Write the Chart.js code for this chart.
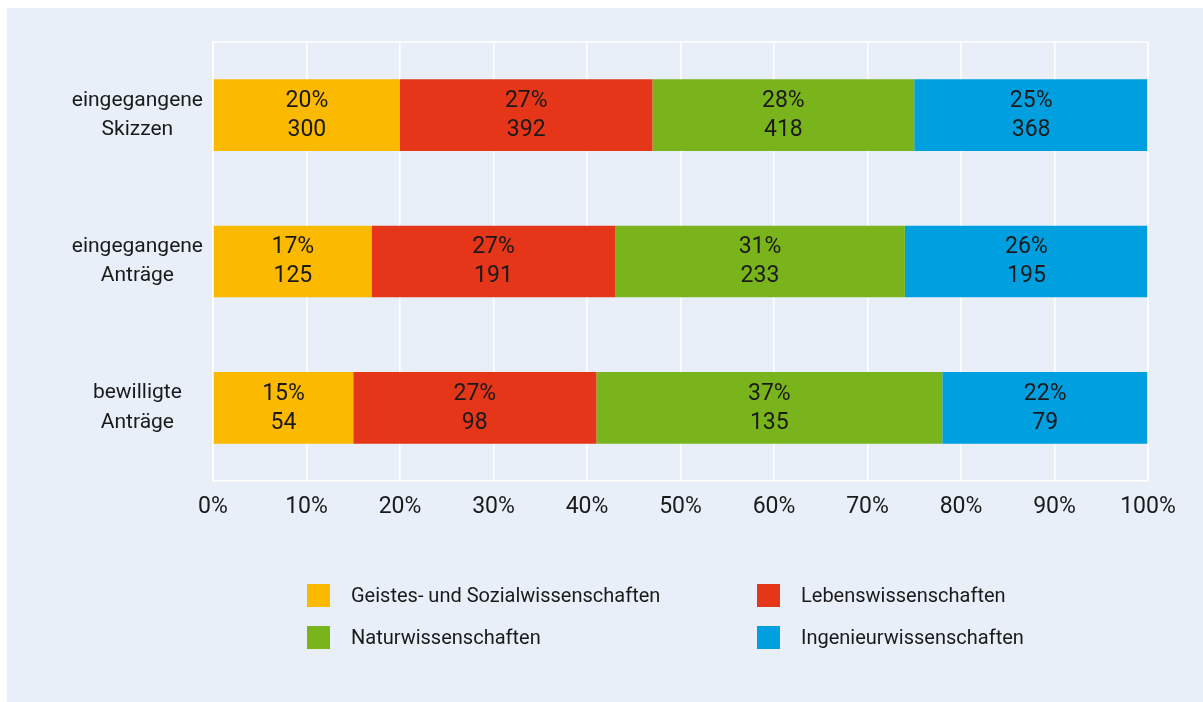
<!DOCTYPE html>
<html>
<head>
<meta charset="utf-8">
<script src="https://cdn.jsdelivr.net/npm/chart.js@4/dist/chart.umd.min.js"></script>
<style>
  html, body { margin: 0; padding: 0; background: #fff; }
  #wrap { width: 1203px; height: 702px; }
</style>
</head>
<body>
<div id="wrap"><canvas id="chart" width="1203" height="702"></canvas></div>
<script>
const categories = [['eingegangene', 'Skizzen'], ['eingegangene', 'Anträge'], ['bewilligte', 'Anträge']];
const seriesNames = ['Geistes- und Sozialwissenschaften', 'Lebenswissenschaften', 'Naturwissenschaften', 'Ingenieurwissenschaften'];
const seriesColors = ['#fbb900', '#e5361a', '#7ab41d', '#009fe0'];

// bar lengths (percent of row)
const shareGeistes = [20, 17, 15];
const shareLeben = [27, 26, 26];
const shareNatur = [28, 31, 37];
const shareIngenieur = [25, 26, 22];

// printed percentages
const pctGeistes = ['20%', '17%', '15%'];
const pctLeben = ['27%', '27%', '27%'];
const pctNatur = ['28%', '31%', '37%'];
const pctIngenieur = ['25%', '26%', '22%'];

// printed counts
const countGeistes = [300, 125, 54];
const countLeben = [392, 191, 98];
const countNatur = [418, 233, 135];
const countIngenieur = [368, 195, 79];

const xTickValues = [0, 10, 20, 30, 40, 50, 60, 70, 80, 90, 100];

const shares = [shareGeistes, shareLeben, shareNatur, shareIngenieur];
const pcts = [pctGeistes, pctLeben, pctNatur, pctIngenieur];
const counts = [countGeistes, countLeben, countNatur, countIngenieur];

const FONT = 'Roboto, "Open Sans", sans-serif';
const TEXT = '#1a1a1a';

const background = {
  id: 'background',
  beforeDraw(chart) {
    const c = chart.ctx;
    c.save();
    c.fillStyle = '#ffffff';
    c.fillRect(0, 0, chart.width, chart.height);
    c.fillStyle = '#e8eff8';
    c.fillRect(7, 8, chart.width - 7, chart.height - 8);
    c.restore();
  },
  afterDraw(chart) {
    const a = chart.chartArea;
    const c = chart.ctx;
    c.save();
    c.strokeStyle = '#ffffff';
    c.lineWidth = 1.5;
    c.beginPath();
    c.moveTo(a.left, a.top);
    c.lineTo(a.right, a.top);
    c.lineTo(a.right, a.bottom);
    c.stroke();
    c.restore();
  }
};

const barLabels = {
  id: 'barLabels',
  afterDatasetsDraw(chart) {
    const c = chart.ctx;
    c.save();
    c.fillStyle = TEXT;
    c.font = '23px ' + FONT;
    c.textAlign = 'center';
    c.textBaseline = 'middle';
    chart.data.datasets.forEach((ds, i) => {
      chart.getDatasetMeta(i).data.forEach((el, j) => {
        const p = el.getProps(['x', 'y', 'base'], true);
        const cx = (p.x + p.base) / 2;
        c.fillText(pcts[i][j], cx, p.y - 14);
        c.fillText(String(counts[i][j]), cx, p.y + 15);
      });
    });
    c.restore();
  }
};

const gridLegend = {
  id: 'gridLegend',
  afterDraw(chart) {
    const c = chart.ctx;
    const colX = [307, 757];
    c.save();
    c.font = '20px ' + FONT;
    c.textBaseline = 'middle';
    c.textAlign = 'left';
    chart.data.datasets.forEach((ds, i) => {
      const x = colX[i % 2];
      const y = 584 + Math.floor(i / 2) * 42;
      c.fillStyle = ds.backgroundColor;
      c.fillRect(x, y, 23, 23);
      c.fillStyle = TEXT;
      c.fillText(ds.label, x + 44, y + 13);
    });
    c.restore();
  }
};

new Chart(document.getElementById('chart'), {
  type: 'bar',
  data: {
    labels: categories,
    datasets: seriesNames.map((name, i) => ({
      label: name,
      data: shares[i],
      backgroundColor: seriesColors[i],
      borderWidth: 0,
      barPercentage: 0.49,
      categoryPercentage: 1.0
    }))
  },
  options: {
    indexAxis: 'y',
    responsive: false,
    animation: false,
    layout: { padding: { top: 42, right: 55, bottom: 181, left: 0 } },
    plugins: {
      legend: { display: false },
      tooltip: { enabled: false }
    },
    scales: {
      x: {
        stacked: true,
        min: 0,
        max: 100,
        afterFit(scale) { scale.height = 40; },
        afterBuildTicks(scale) { scale.ticks = xTickValues.map(v => ({ value: v })); },
        grid: { color: '#ffffff', lineWidth: 1.5, drawTicks: false },
        border: { color: '#ffffff', width: 1.5 },
        ticks: {
          padding: 12,
          color: TEXT,
          font: { family: FONT, size: 23 },
          callback: v => v + '%'
        }
      },
      y: {
        stacked: true,
        afterFit(scale) { scale.width = 213; },
        grid: { display: false, drawTicks: false },
        border: { color: '#ffffff', width: 1.5 },
        ticks: {
          padding: 10,
          crossAlign: 'center',
          color: TEXT,
          font: { family: FONT, size: 21, lineHeight: 1.4 }
        }
      }
    }
  },
  plugins: [background, barLabels, gridLegend]
});
</script>
</body>
</html>
